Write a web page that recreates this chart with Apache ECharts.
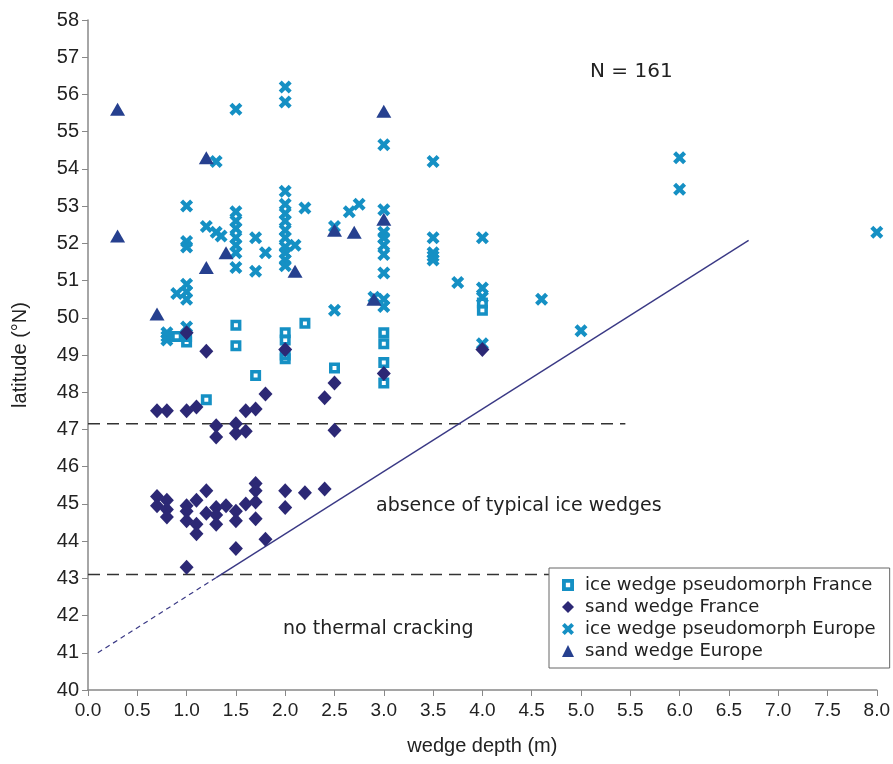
<!DOCTYPE html>
<html>
<head>
<meta charset="utf-8">
<script src="https://cdn.jsdelivr.net/npm/echarts@6/dist/echarts.min.js"></script>
<style>html,body{margin:0;padding:0;background:#fff;}#c{width:893px;height:764px;}</style>
</head>
<body>
<div id="c"></div>
<script>
// ---- data (x = wedge depth m, y = latitude °N) ----
const iceWedgeFrance = [
  [0.9,49.5],[1.0,49.5],[1.0,49.35],[1.5,49.8],[1.5,49.25],[1.2,47.8],[1.7,48.45],
  [2.0,49.6],[2.0,49.4],[2.0,49.0],[2.0,48.9],[2.2,49.85],[2.5,48.65],
  [3.0,49.6],[3.0,49.3],[3.0,48.8],[3.0,48.25],[4.0,50.4],[4.0,50.2]
];
const sandWedgeFrance = [
  [1.0,49.6],[1.2,49.1],[2.0,49.15],[0.7,47.5],[0.8,47.5],[1.0,47.5],[1.1,47.6],
  [1.3,47.1],[1.3,46.8],[1.5,47.15],[1.5,46.9],[1.6,46.95],[1.6,47.5],[1.7,47.55],
  [1.8,47.95],[2.4,47.85],[2.5,48.25],[2.5,46.98],[3.0,48.5],[4.0,49.15],
  [0.7,45.2],[0.8,45.1],[0.7,44.95],[0.8,44.85],[0.8,44.65],[1.0,44.95],[1.0,44.8],
  [1.0,44.55],[1.1,45.1],[1.1,44.45],[1.1,44.2],[1.2,45.35],[1.2,44.75],[1.3,44.9],
  [1.3,44.7],[1.3,44.45],[1.4,44.95],[1.5,44.8],[1.5,44.55],[1.5,43.8],[1.6,45.0],
  [1.7,45.55],[1.7,45.35],[1.7,45.05],[1.7,44.6],[1.8,44.05],[2.0,45.35],[2.0,44.9],
  [2.2,45.3],[2.4,45.4],[1.0,43.3]
];
const iceWedgeEurope = [
  [1.5,55.6],[2.0,56.2],[2.0,55.8],[1.3,54.2],[3.0,54.65],[3.5,54.2],[6.0,54.3],[6.0,53.45],[8.0,52.3],
  [2.0,53.4],[2.0,53.05],[2.0,52.8],[2.0,52.6],[2.0,52.35],[2.0,52.15],[2.0,51.9],[2.0,51.75],[2.0,51.55],[2.0,51.4],
  [2.1,51.95],[2.2,52.95],[1.7,52.15],[1.8,51.75],[1.7,51.25],
  [2.5,52.45],[2.5,50.2],[2.65,52.85],[2.75,53.05],
  [3.0,52.9],[3.0,52.3],[3.0,52.15],[3.0,51.95],[3.0,51.7],[3.0,51.2],[3.0,50.5],[3.0,50.3],[2.9,50.55],
  [3.5,52.15],[3.5,51.75],[3.5,51.65],[3.5,51.55],[3.75,50.95],
  [4.0,52.15],[4.0,50.8],[4.0,50.55],[4.0,49.3],[4.6,50.5],[5.0,49.65],
  [1.0,53.0],[1.0,52.05],[1.0,51.9],[1.0,50.9],[1.0,50.7],[1.0,50.5],[1.0,49.75],[0.9,50.65],
  [0.8,49.6],[0.8,49.5],[0.8,49.4],
  [1.2,52.45],[1.3,52.3],[1.35,52.2],
  [1.5,52.85],[1.5,52.6],[1.5,52.4],[1.5,52.15],[1.5,51.95],[1.5,51.75],[1.5,51.35]
];
const sandWedgeEurope = [
  [0.3,55.6],[0.3,52.2],[1.2,54.3],[0.7,50.1],[1.2,51.35],[1.4,51.75],[2.1,51.25],
  [3.0,55.55],[2.5,52.35],[2.7,52.3],[3.0,52.65],[2.9,50.5]
];
const dashedLimit1 = [[0,47.15],[5.45,47.15]];
const dashedLimit2 = [[0,43.1],[5.45,43.1]];
const trendSolid = [[1.3,43.02],[6.7,52.08]];
const trendDashed = [[0.1,41.0],[1.3,43.02]];
const xTicks = {min:0, max:8, step:0.5};
const yTicks = {min:40, max:58, step:1};

const BLUE = '#1590c4', TRI = '#26408f', DIA = '#2c2875';
const FONT = 'Liberation Sans';
const WIDE = 'DejaVu Sans';
const crossPath = 'path://M0,2.3 L2.3,0 L5,2.7 L7.7,0 L10,2.3 L7.3,5 L10,7.7 L7.7,10 L5,7.3 L2.3,10 L0,7.7 L2.7,5 Z';
const squarePath = 'path://M0,0 H10 V10 H0 Z M3.2,3.2 V6.8 H6.8 V3.2 Z';

const chart = echarts.init(document.getElementById('c'));
chart.setOption({
  animation:false,
  textStyle:{fontFamily:FONT},
  grid:{left:88, right:15, top:20, bottom:74},
  xAxis:{
    type:'value', min:xTicks.min, max:xTicks.max, interval:xTicks.step,
    name:'wedge depth (m)', nameLocation:'middle', nameGap:46,
    nameTextStyle:{fontSize:20, color:'#222', fontFamily:FONT},
    axisLine:{lineStyle:{color:'#888', width:1.5}},
    axisTick:{length:6, lineStyle:{color:'#888'}},
    axisLabel:{fontSize:19, color:'#222', margin:11, fontFamily:FONT, formatter:v=>v.toFixed(1)},
    splitLine:{show:false}
  },
  yAxis:{
    type:'value', min:yTicks.min, max:yTicks.max, interval:yTicks.step,
    name:'latitude (°N)', nameLocation:'middle', nameGap:58, nameRotate:90,
    nameTextStyle:{fontSize:20, color:'#222', fontFamily:FONT},
    axisLine:{show:true, lineStyle:{color:'#888', width:1.5}},
    axisTick:{show:true, length:6, lineStyle:{color:'#888'}},
    axisLabel:{fontSize:20, color:'#222', margin:9},
    splitLine:{show:false}
  },
  legend:{
    orient:'vertical', left:549, top:568,
    padding:[8,14,8,13], itemGap:4, itemWidth:12, itemHeight:12,
    backgroundColor:'#fff', borderColor:'#666', borderWidth:1,
    textStyle:{fontSize:18, color:'#222', fontFamily:WIDE, lineHeight:18, padding:[0,0,0,6]},
    data:['ice wedge pseudomorph France','sand wedge France','ice wedge pseudomorph Europe','sand wedge Europe']
  },
  series:[
    {type:'line', data:dashedLimit1, symbol:'none', silent:true, z:1,
     lineStyle:{color:'#333', width:1.5, type:[12,7]}},
    {type:'line', data:dashedLimit2, symbol:'none', silent:true, z:1,
     lineStyle:{color:'#333', width:1.5, type:[12,7]}},
    {type:'line', data:trendSolid, symbol:'none', silent:true, z:1,
     lineStyle:{color:'#3a3985', width:1.4}},
    {type:'line', data:trendDashed, symbol:'none', silent:true, z:1,
     lineStyle:{color:'#3a3985', width:1.2, type:[5,4]}},
    {name:'ice wedge pseudomorph France', type:'scatter', data:iceWedgeFrance, symbol:squarePath, symbolSize:11, z:3,
     itemStyle:{color:BLUE, opacity:1}},
    {name:'sand wedge France', type:'scatter', data:sandWedgeFrance, symbol:'diamond', symbolSize:[14,15], z:4,
     itemStyle:{color:DIA, opacity:1}},
    {name:'ice wedge pseudomorph Europe', type:'scatter', data:iceWedgeEurope, symbol:crossPath, symbolSize:13, z:2,
     itemStyle:{color:BLUE, opacity:1}},
    {name:'sand wedge Europe', type:'scatter', data:sandWedgeEurope, symbol:'triangle', symbolSize:[15,13], z:3,
     itemStyle:{color:TRI, opacity:1}}
  ],
  graphic:[
    {type:'text', left:590, top:62, style:{text:'N = 161', fontSize:20, fill:'#222', fontFamily:WIDE}},
    {type:'text', left:376, top:497, style:{text:'absence of typical ice wedges', fontSize:19, fill:'#222', fontFamily:WIDE}},
    {type:'text', left:283, top:620, style:{text:'no thermal cracking', fontSize:19, fill:'#222', fontFamily:WIDE}}
  ]
});
</script>
</body>
</html>
